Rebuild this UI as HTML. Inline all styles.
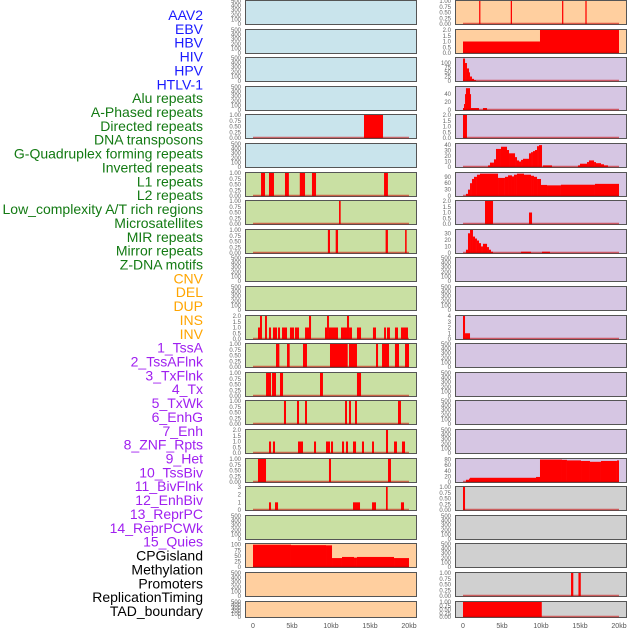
<!DOCTYPE html>
<html><head><meta charset="utf-8"><style>
body{margin:0;background:#fff;}
svg{display:block;font-family:"Liberation Sans",sans-serif;}
</style></head><body>
<svg id="chart" width="630" height="630" viewBox="0 0 630 630" xmlns="http://www.w3.org/2000/svg"></svg>
<script>
// ---- track labels ----
const labelNames = ["AAV2","EBV","HBV","HIV","HPV","HTLV-1","Alu repeats","A-Phased repeats","Directed repeats","DNA transposons","G-Quadruplex forming repeats","Inverted repeats","L1 repeats","L2 repeats","Low_complexity A/T rich regions","Microsatellites","MIR repeats","Mirror repeats","Z-DNA motifs","CNV","DEL","DUP","INS","INV","1_TssA","2_TssAFlnk","3_TxFlnk","4_Tx","5_TxWk","6_EnhG","7_Enh","8_ZNF_Rpts","9_Het","10_TssBiv","11_BivFlnk","12_EnhBiv","13_ReprPC","14_ReprPCWk","15_Quies","CPGisland","Methylation","Promoters","ReplicationTiming","TAD_boundary"];
const labelGroups = [6,13,5,15,5];
const groupColors = ["#1a1aff","#137a13","#ffa500","#a020f0","#000000"];
const xTickLabels = ["0","5kb","10kb","15kb","20kb"];
const xTickValues = [0,5,10,15,20];
const emptyTicks = ["0","100","200","300","400","500"];

// ---- series (start kb, end kb, value) ----
const barsL4 = [[14.23,16.67,1]];
const barsL6 = [[1.03,1.54,1],[2.05,2.69,1],[4.1,4.6,1],[6.0,6.67,1],[7.56,8.08,1],[16.8,17.3,1]];
const barsL7 = [[11.03,11.24,1]];
const barsL8 = [[9.6,9.87,1],[10.6,10.9,1],[17.0,17.3,1],[19.5,19.7,1]];
const barsL11 = [[0.64,0.9,1],[0.9,1.15,2],[1.54,1.79,2],[2.05,2.31,1],[2.56,3.08,1],[3.21,3.46,1],[3.72,4.36,1],[4.74,5.26,1],[5.38,5.9,1],[6.67,7.18,1],[7.18,7.44,2],[9.23,9.49,1],[9.49,9.74,2],[9.74,10.9,1],[11.28,12.05,1],[12.05,12.31,2],[12.31,12.69,1],[13.33,13.85,1],[15.38,15.77,1],[16.8,17.05,1],[17.18,17.56,1],[18.2,18.59,1],[18.97,19.87,1]];
const barsL12 = [[2.95,3.38,1],[4.36,4.7,1],[6.41,6.92,1],[9.87,12.14,1],[12.31,13.33,1],[15.77,16.03,1],[16.54,17.44,1],[18.2,18.72,1],[19.49,20.0,1]];
const barsL13 = [[1.67,2.31,1],[2.44,2.95,1],[3.46,3.85,1],[8.59,8.97,1],[13.33,13.85,1]];
const barsL14 = [[3.97,4.23,1],[5.64,5.9,1],[6.67,6.92,1],[11.8,12.05,1],[12.31,12.56,1],[13.08,13.33,1],[18.59,18.97,1]];
const barsL15 = [[2.05,2.31,1],[2.56,2.82,1],[5.77,6.41,1],[7.82,8.08,1],[9.36,9.87,1],[10.0,10.26,1],[11.41,11.67,1],[11.92,12.18,1],[12.82,13.21,1],[13.97,14.23,1],[15.26,15.51,1],[17.05,17.31,2],[18.08,18.46,1],[19.1,19.49,1]];
const barsL16 = [[0.64,1.67,1],[9.74,10.0,1],[17.31,17.69,1]];
const barsL17 = [[2.05,2.31,1],[2.82,3.21,1],[12.82,13.72,1],[15.26,15.77,1],[17.05,17.27,3],[18.97,19.36,1]];
const barsL19 = [[0,4.87,100],[4.87,9.36,98],[9.36,10.13,97],[10.13,11.41,40],[11.41,12.95,45],[12.95,13.33,42],[13.33,18.08,45],[18.08,20.0,40]];
const barsR0 = [[2.07,2.23,1],[6.12,6.28,1],[12.7,12.86,1],[15.69,15.85,1]];
const barsR1 = [[0,9.87,1],[9.87,20.0,2]];
const barsR2 = [[0,0.26,125],[0.26,0.51,100],[0.51,0.77,70],[0.77,0.9,48],[0.9,1.15,25],[1.15,1.41,12],[1.41,1.67,5]];
const barsR3 = [[0,0.13,5],[0.13,0.26,15],[0.26,0.38,40],[0.38,0.9,55],[0.9,1.03,40],[1.03,2.05,5],[2.56,3.08,5]];
const barsR4 = [[0,0.51,2]];
const barsR5 = [[3.21,3.46,3],[3.46,3.97,8],[3.97,4.23,14],[4.23,4.87,33],[4.87,5.64,37],[5.64,5.9,31],[5.9,6.67,25],[6.67,6.92,18],[6.92,7.18,12],[7.18,7.44,10],[7.44,7.69,13],[7.69,8.46,15],[8.46,8.72,25],[8.72,8.97,27],[8.97,9.23,29],[9.23,9.49,31],[9.49,9.74,38],[9.74,10.13,40],[10.26,11.41,3],[14.74,15.0,3],[15.0,15.9,6],[15.9,16.15,9],[16.15,16.8,12],[16.8,17.05,9],[17.05,17.69,7],[17.69,18.08,5],[18.08,18.59,3]];
const barsR6 = [[0.38,0.64,10],[0.64,0.9,30],[0.9,1.15,60],[1.15,1.41,80],[1.41,1.79,90],[1.79,2.18,100],[2.18,4.49,105],[4.49,5.38,85],[5.38,5.77,90],[5.77,6.28,97],[6.28,6.54,92],[6.54,6.92,100],[6.92,7.82,105],[7.82,8.72,100],[8.72,9.1,95],[9.1,9.49,90],[9.49,10.0,80],[10.0,10.77,52],[10.77,12.56,50],[12.56,16.92,53],[16.92,20.0,57]];
const barsR7 = [[2.82,3.85,2],[8.46,8.85,1]];
const barsR8 = [[0.38,0.64,5],[0.64,0.9,30],[0.9,1.28,35],[1.28,1.54,25],[1.54,1.79,22],[1.79,2.05,19],[2.05,2.31,15],[2.31,2.56,10],[2.56,3.08,14],[3.08,3.33,9],[3.33,3.59,5],[3.59,3.85,2],[7.44,8.72,2],[10.13,11.15,2]];
const barsR11 = [[0,0.26,4],[0.26,0.9,1]];
const barsR16 = [[0.38,0.77,8],[0.77,0.9,12],[0.9,9.36,15],[9.36,9.87,18],[9.87,12.69,80],[12.69,13.33,79],[13.33,15.13,77],[15.13,16.28,75],[16.28,17.69,72],[17.69,19.74,75],[19.74,20.0,77]];
const barsR17 = [[0,0.26,1]];
const barsR20 = [[13.85,14.14,1],[14.8,15.1,1]];
const barsR21 = [[0,10.1,1]];

const t1 = ["0.00","0.25","0.50","0.75","1.00"];
const t2 = ["0.0","0.5","1.0","1.5","2.0"];
const BL="#c9e4ec", GR="#c9e0a3", OR="#ffcf9f", PU="#d6c6e3", GY="#d0d0d0";
// col,row,bg,ymax,ticks,bars
const panels = [
 [0,0,BL,500,emptyTicks,null],[0,1,BL,500,emptyTicks,null],[0,2,BL,500,emptyTicks,null],[0,3,BL,500,emptyTicks,null],
 [0,4,BL,1,t1,barsL4],[0,5,BL,500,emptyTicks,null],
 [0,6,GR,1,t1,barsL6],[0,7,GR,1,t1,barsL7],[0,8,GR,1,t1,barsL8],[0,9,GR,500,emptyTicks,null],[0,10,GR,500,emptyTicks,null],
 [0,11,GR,2,t2,barsL11],[0,12,GR,1,t1,barsL12],[0,13,GR,1,t1,barsL13],[0,14,GR,1,t1,barsL14],[0,15,GR,2,t2,barsL15],
 [0,16,GR,1,t1,barsL16],[0,17,GR,3,["0","1","2","3"],barsL17],[0,18,GR,500,emptyTicks,null],
 [0,19,OR,103,["0","25","50","75","100"],barsL19],[0,20,OR,500,emptyTicks,null],[0,21,OR,500,emptyTicks,null],
 [1,0,OR,1,t1,barsR0],[1,1,OR,2,t2,barsR1],[1,2,PU,128,["0","25","50","75","100"],barsR2],[1,3,PU,58,["0","20","40"],barsR3],
 [1,4,PU,2,t2,barsR4],[1,5,PU,42,["0","10","20","30","40"],barsR5],[1,6,PU,108,["0","30","60","90"],barsR6],[1,7,PU,2,t2,barsR7],
 [1,8,PU,35,["0","10","20","30"],barsR8],[1,9,PU,500,emptyTicks,null],[1,10,PU,500,emptyTicks,null],[1,11,PU,4,["0","1","2","3","4"],barsR11],
 [1,12,PU,500,emptyTicks,null],[1,13,PU,500,emptyTicks,null],[1,14,PU,500,emptyTicks,null],[1,15,PU,500,emptyTicks,null],
 [1,16,PU,82,["0","20","40","60","80"],barsR16],[1,17,GY,1,t1,barsR17],[1,18,GY,500,emptyTicks,null],[1,19,GY,500,emptyTicks,null],
 [1,20,GY,1,t1,barsR20],[1,21,GY,1,t1,barsR21]
];

const NS="http://www.w3.org/2000/svg";
const svg=document.getElementById('chart');
function mk(tag,attrs,parent){const e=document.createElementNS(NS,tag);for(const k in attrs)e.setAttribute(k,attrs[k]);(parent||svg).appendChild(e);return e;}

// labels
let li=0;
labelGroups.forEach((n,g)=>{for(let k=0;k<n;k++){
  const t=mk('text',{x:203,y:(15+li*13.86+5).toFixed(1),'text-anchor':'end','font-size':'14',fill:groupColors[g]});
  
  
  t.textContent=labelNames[li];li++;}});

const colX=[245,455], colW=171, x0off=8, xSpan=156;
function xScale(col,kb){return colX[col]+x0off+kb/20*xSpan;}
function rowTop(r){return Math.round(r*28.6);}
function rowH(r){return r===21?17:25;}

panels.forEach((p,i)=>{
  const [col,row,bg,ymax,ticks,bars]=p;
  const top=rowTop(row), h=rowH(row), bot=top+h;
  const yS=v=>bot-1-v/ymax*(h-2);
  const g=mk('g',{});
  
  
  const r=mk('rect',{x:colX[col]+0.5,y:top+0.5,width:colW,height:h-1,fill:bg,stroke:'#555','stroke-width':1},g);
  
  
  ticks.forEach(tl=>{
    const v=parseFloat(tl);
    const t=mk('text',{x:colX[col]-4,y:(yS(v)+2).toFixed(1),'text-anchor':'end','font-size':'6',fill:'#666'},g);
    
    
    t.textContent=tl;
  });
  if(bars){
    bars.forEach(b=>{
      const x1=xScale(col,b[0]), x2=xScale(col,Math.min(b[1],20));
      const y=yS(b[2]);
      const br=mk('rect',{x:x1.toFixed(2),y:y.toFixed(2),width:Math.max(1,x2-x1).toFixed(2),height:(bot-1-y).toFixed(2),fill:'#ff0000'},g);
      
      
    });
    const bl=mk('line',{x1:xScale(col,0),x2:xScale(col,20),y1:bot-1.5,y2:bot-1.5,stroke:'rgba(200,0,0,0.55)','stroke-width':1.5},g);
    
    
  }
});

// x axes
[0,1].forEach(col=>{
  xTickValues.forEach((v,k)=>{
    const t=mk('text',{x:xScale(col,v),y:628,'text-anchor':'middle','font-size':'7',fill:'#555'});
    
    
    t.textContent=xTickLabels[k];
  });
});
</script>
</body></html>
